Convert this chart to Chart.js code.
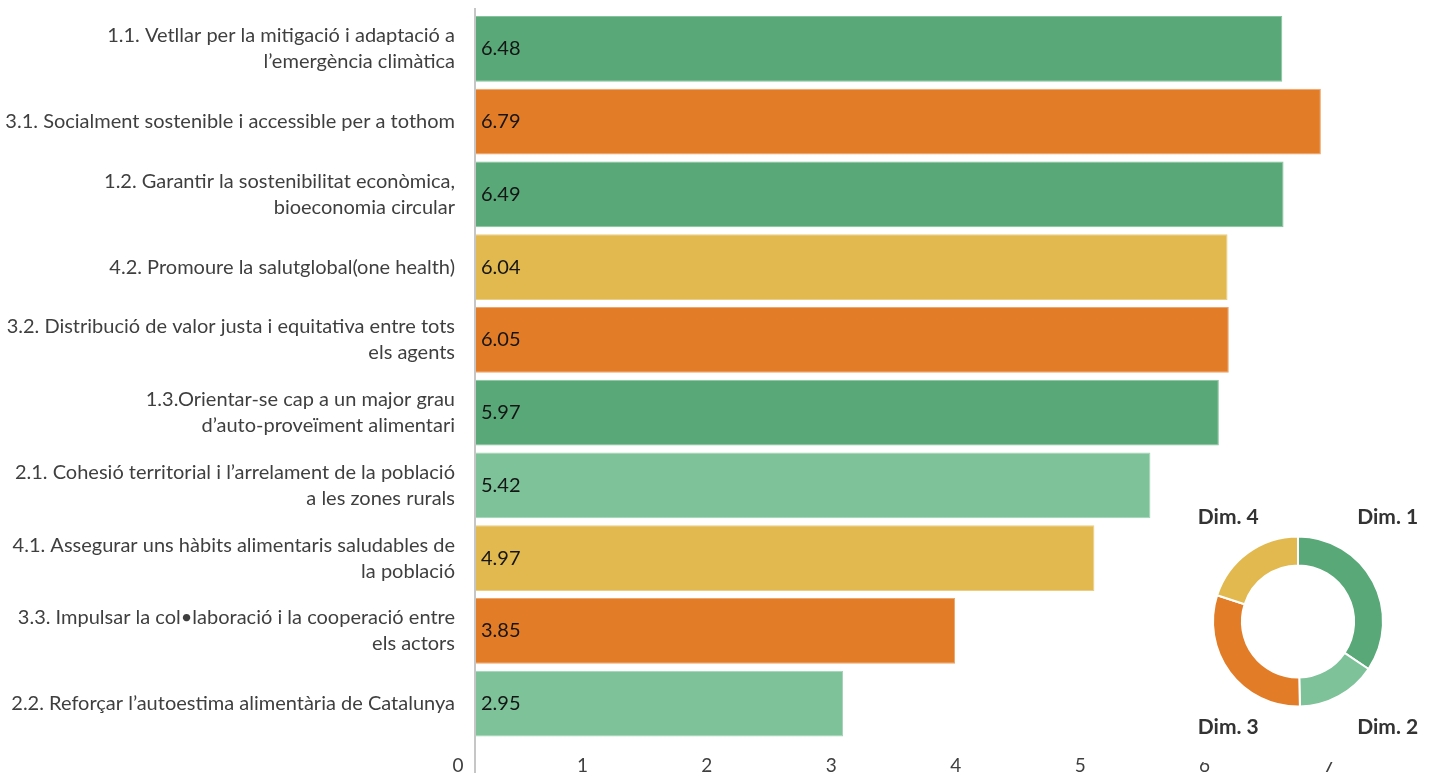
<!DOCTYPE html>
<html><head><meta charset="utf-8">
<script src="https://cdn.jsdelivr.net/npm/chart.js@4/dist/chart.umd.min.js"></script>
<style>
html,body{margin:0;padding:0;background:#fff;overflow:hidden}
#wrap{position:relative;width:1435px;height:773px}
#main{position:absolute;left:0;top:0;width:1435px;height:773px}
#donutBox{position:absolute;left:1185px;top:495px;width:250px;height:267px;background:#fff}
#donut{width:250px;height:267px}
</style></head><body>
<div id="wrap">
<canvas id="main" width="1435" height="773"></canvas>
<div id="donutBox"><canvas id="donut" width="250" height="267"></canvas></div>
</div>
<script>
// ---- data ----
const categories = [
  ['1.1. Vetllar per la mitigació i adaptació a', 'l’emergència climàtica'],
  '3.1. Socialment sostenible i accessible per a tothom',
  ['1.2. Garantir la sostenibilitat econòmica,', 'bioeconomia circular'],
  '4.2. Promoure la salutglobal(one health)',
  ['3.2. Distribució de valor justa i equitativa entre tots', 'els agents'],
  ['1.3.Orientar-se cap a un major grau', 'd’auto-proveïment alimentari'],
  ['2.1. Cohesió territorial i l’arrelament de la població', 'a les zones rurals'],
  ['4.1. Assegurar uns hàbits alimentaris saludables de', 'la població'],
  ['3.3. Impulsar la col•laboració i la cooperació entre', 'els actors'],
  '2.2. Reforçar l’autoestima alimentària de Catalunya'
];
const scores = [6.48, 6.79, 6.49, 6.04, 6.05, 5.97, 5.42, 4.97, 3.85, 2.95];
const dimensionOf = [1, 3, 1, 4, 3, 1, 2, 4, 3, 2];
const xTicks = [0, 1, 2, 3, 4, 5, 6, 7];
const dimLabels = ['Dim. 1', 'Dim. 2', 'Dim. 3', 'Dim. 4'];
const dimTotals = [18.94, 8.37, 16.69, 11.01];

// ---- styles ----
const dimColors = {1: '#58a878', 2: '#7dc298', 3: '#e37c27', 4: '#e2b94e'};
const dimBorders = {1: '#86c39d', 2: '#a3d4b5', 3: '#eea56b', 4: '#ebcd86'};
const textColor = '#3f3f3f';
const FONT = 'Lato, "Open Sans", sans-serif';

function zeroPad(scale) {
  scale.paddingTop = 0; scale.paddingBottom = 0;
  scale.paddingLeft = 0; scale.paddingRight = 0;
}

const axisLinePlugin = {
  id: 'axisLine',
  afterDatasetsDraw(chart) {
    const {ctx, chartArea} = chart;
    ctx.save();
    ctx.strokeStyle = '#c6c6c6';
    ctx.lineWidth = 2;
    ctx.beginPath();
    ctx.moveTo(chartArea.left - 1, chartArea.top - 4.5);
    ctx.lineTo(chartArea.left - 1, chart.height);
    ctx.stroke();
    ctx.restore();
  }
};

const valueLabelPlugin = {
  id: 'valueLabels',
  afterDatasetsDraw(chart) {
    const {ctx, chartArea} = chart;
    const meta = chart.getDatasetMeta(0);
    ctx.save();
    ctx.font = '20px ' + FONT;
    ctx.fillStyle = '#151515';
    ctx.textBaseline = 'middle';
    ctx.textAlign = 'left';
    meta.data.forEach((bar, i) => {
      ctx.fillText(scores[i].toFixed(2), chartArea.left + 5, bar.y);
    });
    ctx.restore();
  }
};

new Chart(document.getElementById('main'), {
  type: 'bar',
  data: {
    labels: categories,
    datasets: [{
      data: scores,
      backgroundColor: dimensionOf.map(d => dimColors[d]),
      borderColor: dimensionOf.map(d => dimBorders[d]),
      borderWidth: 1,
      borderSkipped: 'left',
      barPercentage: 0.905,
      categoryPercentage: 1
    }]
  },
  options: {
    indexAxis: 'y',
    responsive: false,
    animation: false,
    devicePixelRatio: 1,
    layout: {padding: {top: 12.5, right: 88, left: 0, bottom: 0}},
    plugins: {legend: {display: false}, tooltip: {enabled: false}},
    scales: {
      x: {
        min: xTicks[0], max: xTicks[xTicks.length - 1],
        afterBuildTicks(scale) { scale.ticks = xTicks.map(v => ({value: v})); },
        afterFit(scale) { scale.height = 33; zeroPad(scale); },
        grid: {display: false, drawTicks: false},
        border: {display: false},
        ticks: {
          stepSize: 1, labelOffset: -18, padding: 14,
          color: textColor,
          font: {family: FONT, size: 19}
        }
      },
      y: {
        afterFit(scale) { scale.width = 476; zeroPad(scale); },
        grid: {display: false, drawTicks: false},
        border: {display: false},
        ticks: {
          padding: 21,
          color: textColor,
          font: {family: FONT, size: 20, lineHeight: 26 / 20}
        }
      }
    }
  },
  plugins: [axisLinePlugin, valueLabelPlugin]
});

const dimLabelPlugin = {
  id: 'dimLabels',
  afterDraw(chart) {
    const arc = chart.getDatasetMeta(0).data[0];
    if (!arc) return;
    const cx = arc.x, cy = arc.y, r = arc.outerRadius;
    const {ctx} = chart;
    ctx.save();
    ctx.font = 'bold 21px ' + FONT;
    ctx.fillStyle = '#333333';
    ctx.textAlign = 'center';
    ctx.textBaseline = 'middle';
    const dx1 = r * 1.055, dx2 = r * 0.82, dyT = r * 1.23, dyB = r * 1.24;
    ctx.fillText(dimLabels[0], cx + dx1, cy - dyT);
    ctx.fillText(dimLabels[1], cx + dx1, cy + dyB);
    ctx.fillText(dimLabels[2], cx - dx2, cy + dyB);
    ctx.fillText(dimLabels[3], cx - dx2, cy - dyT);
    ctx.restore();
  }
};

new Chart(document.getElementById('donut'), {
  type: 'doughnut',
  data: {
    labels: dimLabels,
    datasets: [{
      data: dimTotals,
      backgroundColor: [dimColors[1], dimColors[2], dimColors[3], dimColors[4]],
      borderColor: '#ffffff',
      borderWidth: 2
    }]
  },
  options: {
    responsive: false,
    animation: false,
    devicePixelRatio: 1,
    cutout: '66%',
    layout: {padding: {left: 27, right: 51, top: 40.5, bottom: 54.5}},
    plugins: {legend: {display: false}, tooltip: {enabled: false}}
  },
  plugins: [dimLabelPlugin]
});
</script>
</body></html>
